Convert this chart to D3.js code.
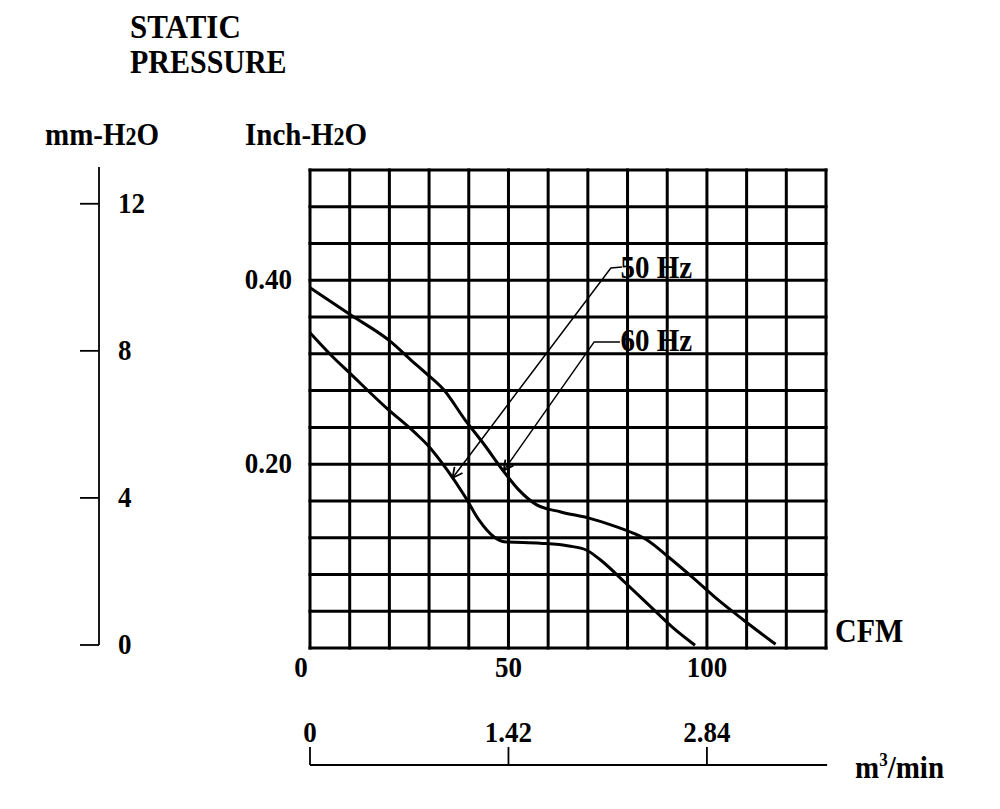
<!DOCTYPE html>
<html lang="en">
<head>
  <meta charset="utf-8">
  <title>Static Pressure</title>
  <script src="https://d3js.org/d3.v7.min.js"></script>
  <style>
    body { margin: 0; background: #fff; }
    text { font-family: "Liberation Serif", "Times New Roman", serif; font-weight: bold; fill: #000; }
  </style>
</head>
<body>
<svg id="chart" width="1000" height="809"></svg>
<script>
// fan curves: CFM vs inch-H2O
var cfm60 = [0, 10, 20.4, 25.5, 29.2, 33.7, 39.1, 43.6, 48.9, 52.6, 57, 63.2, 70.5, 75.8, 81.4, 84.9, 90.3, 96.6, 102.9, 109.2, 117.3];
var inch60 = [0.392, 0.363, 0.333, 0.313, 0.299, 0.281, 0.248, 0.223, 0.1915, 0.172, 0.156, 0.148, 0.141, 0.134, 0.125, 0.1175, 0.099, 0.076, 0.052, 0.0305, 0.004];
var cfm50 = [0, 6.6, 9.3, 19.3, 26.5, 30, 34.5, 39, 42.6, 46.3, 48.9, 58, 65.2, 69.6, 73.2, 79.5, 85.8, 91.2, 97];
var inch50 = [0.343, 0.313, 0.302, 0.261, 0.234, 0.219, 0.194, 0.165, 0.139, 0.121, 0.1156, 0.114, 0.111, 0.1066, 0.0957, 0.0707, 0.045, 0.023, 0.003];

var cfmTicks = [0, 50, 100];
var inchTicks = [0.20, 0.40];
var mmTicks = [0, 4, 8, 12];
var m3Ticks = [0, 1.42, 2.84];

// leader lines in data units: text end, bend, arrow tip
var labels = [
  { name: "50 Hz", pts: [[78.6, 0.4145], [75.8, 0.4134], [35.9, 0.185]], tx: 78.2, ty: 0.402 },
  { name: "60 Hz", pts: [[78.1, 0.333], [71.6, 0.333], [48.8, 0.1929]], tx: 78.2, ty: 0.323 }
];

var svg = d3.select("#chart");

var x = d3.scaleLinear().domain([0, 130]).range([310, 826]);
var y = d3.scaleLinear().domain([0, 0.52]).range([648, 170]);
var yMm = d3.scaleLinear().domain([0, 13]).range([645, 167]);
var xM3 = d3.scaleLinear().domain([0, 130 * 0.0284]).range([310, 826]);

// text in the picture is a little taller than the font
function label(px, py, size) {
  return svg.append("text")
    .attr("transform", "translate(" + px + "," + py + ") scale(1,1.1)")
    .attr("font-size", size);
}

// grid
var grid = svg.append("g");
d3.range(0, 131, 10).forEach(function(v) {
  grid.append("line")
    .attr("x1", x(v)).attr("x2", x(v))
    .attr("y1", y(0) + 1.5).attr("y2", y(0.52) - 1.5)
    .attr("stroke", "#000").attr("stroke-width", 3);
});
d3.range(0, 14).forEach(function(i) {
  var v = i * 0.04;
  grid.append("line")
    .attr("x1", x(0) - 1.5).attr("x2", x(130) + 1.5)
    .attr("y1", y(v)).attr("y2", y(v))
    .attr("stroke", "#000").attr("stroke-width", 3);
});

// curves
var line = d3.line()
  .x(function(d) { return x(d[0]); })
  .y(function(d) { return y(d[1]); })
  .curve(d3.curveMonotoneX);

svg.append("path")
  .datum(d3.zip(cfm60, inch60))
  .attr("fill", "none").attr("stroke", "#000").attr("stroke-width", 3)
  .attr("d", line);
svg.append("path")
  .datum(d3.zip(cfm50, inch50))
  .attr("fill", "none").attr("stroke", "#000").attr("stroke-width", 3)
  .attr("d", line);

// arrow marker
svg.append("defs").append("marker")
  .attr("id", "arr")
  .attr("viewBox", "0 0 12 12")
  .attr("refX", 11).attr("refY", 6)
  .attr("markerWidth", 12).attr("markerHeight", 12)
  .attr("markerUnits", "userSpaceOnUse")
  .attr("orient", "auto")
  .append("path")
  .attr("d", "M1,1 L11,6 L1,11")
  .attr("fill", "none").attr("stroke", "#000").attr("stroke-width", 1.8);

var leader = d3.line()
  .x(function(d) { return x(d[0]); })
  .y(function(d) { return y(d[1]); });

labels.forEach(function(l) {
  svg.append("path")
    .attr("d", leader(l.pts))
    .attr("fill", "none").attr("stroke", "#000").attr("stroke-width", 1.5)
    .attr("marker-end", "url(#arr)");
  label(x(l.tx), y(l.ty), 29).text(l.name);
});

// CFM labels
cfmTicks.forEach(function(d) {
  label(x(d) - (d === 0 ? 9 : 0), 677, 27).attr("text-anchor", "middle").text(d);
});
label(835, 642, 30).text("CFM");

// inch labels
inchTicks.forEach(function(d) {
  label(292, y(d) + 9, 27).attr("text-anchor", "end").text(d.toFixed(2));
});

// mm axis
svg.append("line")
  .attr("x1", 99).attr("x2", 99)
  .attr("y1", yMm(13)).attr("y2", yMm(0))
  .attr("stroke", "#000").attr("stroke-width", 1.8);
mmTicks.forEach(function(v) {
  svg.append("line")
    .attr("x1", 80).attr("x2", 99)
    .attr("y1", yMm(v)).attr("y2", yMm(v))
    .attr("stroke", "#000").attr("stroke-width", 1.8);
  label(118, yMm(v) + 9, 27).text(v);
});

// m3/min axis
svg.append("line")
  .attr("x1", xM3(0)).attr("x2", xM3(3.7))
  .attr("y1", 765).attr("y2", 765)
  .attr("stroke", "#000").attr("stroke-width", 1.8);
m3Ticks.forEach(function(v) {
  svg.append("line")
    .attr("x1", xM3(v)).attr("x2", xM3(v))
    .attr("y1", 747).attr("y2", 765)
    .attr("stroke", "#000").attr("stroke-width", 1.8);
  label(xM3(v), 742, 27).attr("text-anchor", "middle")
    .text(v === 0 ? "0" : v.toFixed(2));
});
var m3 = label(855, 778, 29);
m3.append("tspan").text("m");
m3.append("tspan").attr("font-size", 17).attr("dy", -11).text("3");
m3.append("tspan").attr("dy", 11).text("/min");

// titles
label(130, 38, 31).text("STATIC");
label(130, 73, 30).text("PRESSURE");

function h2o(t, pre) {
  t.append("tspan").text(pre + "-H");
  t.append("tspan").attr("font-size", 22).text("2");
  t.append("tspan").text("O");
}
h2o(label(45, 145, 29), "mm");
h2o(label(245, 145, 29), "Inch");
</script>
</body>
</html>
